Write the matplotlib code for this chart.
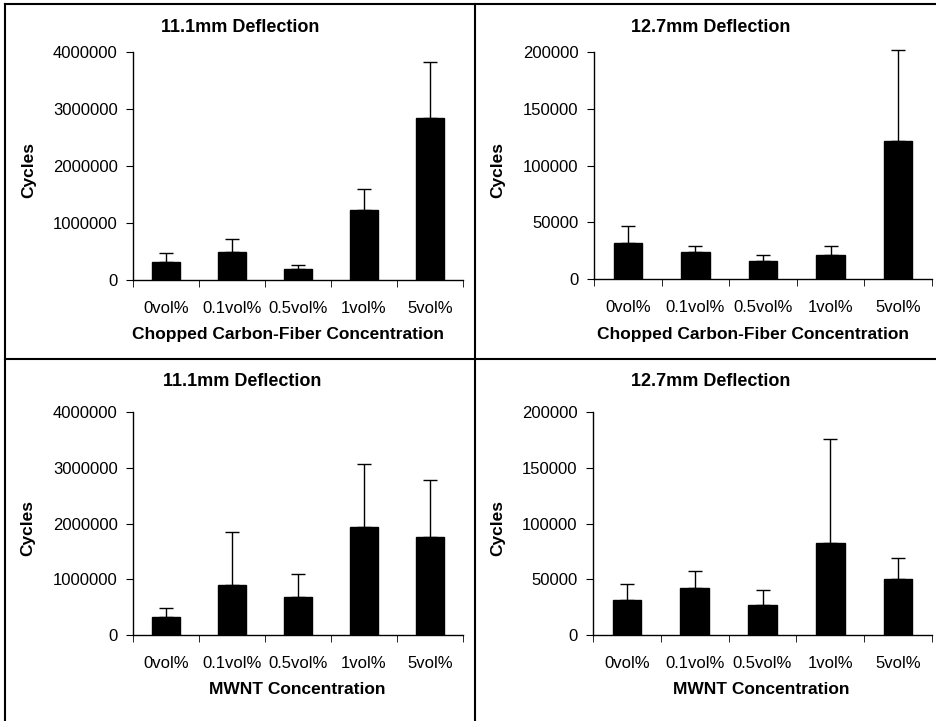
import matplotlib.pyplot as plt
import numpy as np
from matplotlib.lines import Line2D

plt.rcParams['font.family'] = ['Liberation Sans', 'DejaVu Sans']

categories = ['0vol%', '0.1vol%', '0.5vol%', '1vol%', '5vol%']

# mean cycles to failure and upper error (std dev)
cf_111_mean = [322000, 486000, 193000, 1230000, 2850000]
cf_111_err = [158000, 234000, 77000, 360000, 980000]
cf_127_mean = [32000, 24100, 15900, 21100, 121300]
cf_127_err = [14400, 5000, 5000, 8000, 80500]
mwnt_111_mean = [329000, 892000, 677000, 1946000, 1754000]
mwnt_111_err = [156000, 964000, 423000, 1124000, 1026000]
mwnt_127_mean = [31100, 41900, 26900, 82300, 50000]
mwnt_127_err = [14700, 15900, 13500, 93100, 18900]

W, H = 936, 721
fig = plt.figure(figsize=(W / 100, H / 100), dpi=100)

def px(x0, y0, x1, y1):
    # pixel box -> figure fraction rect
    return [x0 / W, 1 - y1 / H, (x1 - x0) / W, (y1 - y0) / H]

panels = [
    (px(133, 52, 463, 280), cf_111_mean, cf_111_err, 4000000, 1000000,
     '11.1mm Deflection', 'Chopped Carbon-Fiber Concentration',
     (240, 27), (288, 335), (29, 170)),
    (px(594, 52, 932, 279), cf_127_mean, cf_127_err, 200000, 50000,
     '12.7mm Deflection', 'Chopped Carbon-Fiber Concentration',
     (711, 27), (753, 335), (498, 170)),
    (px(133, 412, 463, 635), mwnt_111_mean, mwnt_111_err, 4000000, 1000000,
     '11.1mm Deflection', 'MWNT Concentration',
     (242, 382), (297, 690), (28, 528)),
    (px(593, 412, 932, 635), mwnt_127_mean, mwnt_127_err, 200000, 50000,
     '12.7mm Deflection', 'MWNT Concentration',
     (711, 382), (761, 690), (498, 528)),
]

x = np.arange(len(categories))
for rect, mean, err, ymax, ystep, title, xlabel, tpos, xlpos, ylpos in panels:
    ax = fig.add_axes(rect)
    bars = ax.bar(x, mean, width=0.42, color='black', edgecolor='black',
                  yerr=[np.zeros(len(err)), err], capsize=5,
                  error_kw=dict(elinewidth=1, capthick=1, ecolor='black'))
    # let the tallest error bar run past the top of the axis
    for art in bars.errorbar.lines:
        for a in (art if isinstance(art, tuple) else [art]):
            if a is not None:
                a.set_clip_on(False)
    ax.set_xlim(-0.5, len(categories) - 0.5)
    ax.set_ylim(0, ymax)
    ticks = np.arange(0, ymax + 1, ystep)
    ax.set_yticks(ticks)
    ax.set_yticklabels([str(int(v)) for v in ticks])
    ax.set_xticks(x)
    ax.set_xticklabels(categories)
    ax.set_xticks(np.arange(-0.5, len(categories), 1), minor=True)
    ax.tick_params(axis='x', which='major', length=0, pad=15, labelsize=12)
    ax.tick_params(axis='x', which='minor', length=5, direction='out')
    ax.tick_params(axis='y', length=5, direction='out', pad=6, labelsize=12)
    for s in ['top', 'right']:
        ax.spines[s].set_visible(False)
    for s in ['left', 'bottom']:
        ax.spines[s].set_linewidth(1)
    fig.text(tpos[0] / W, 1 - tpos[1] / H, title, ha='center', va='center',
             fontsize=13, fontweight='bold')
    fig.text(xlpos[0] / W, 1 - xlpos[1] / H, xlabel, ha='center', va='center',
             fontsize=12.5, fontweight='bold')
    fig.text(ylpos[0] / W, 1 - ylpos[1] / H, 'Cycles', ha='center', va='center',
             fontsize=12.5, fontweight='bold', rotation=90)

# frame lines around and between the four charts
frame = [((5, 936), (4, 4)), ((5, 5), (4, 721)), ((475, 475), (4, 721)),
         ((5, 936), (359, 359))]
for xs, ys in frame:
    fig.add_artist(Line2D([v / W for v in xs], [1 - v / H for v in ys],
                          color='black', lw=1.5))

fig.savefig('out.png', dpi=100)
